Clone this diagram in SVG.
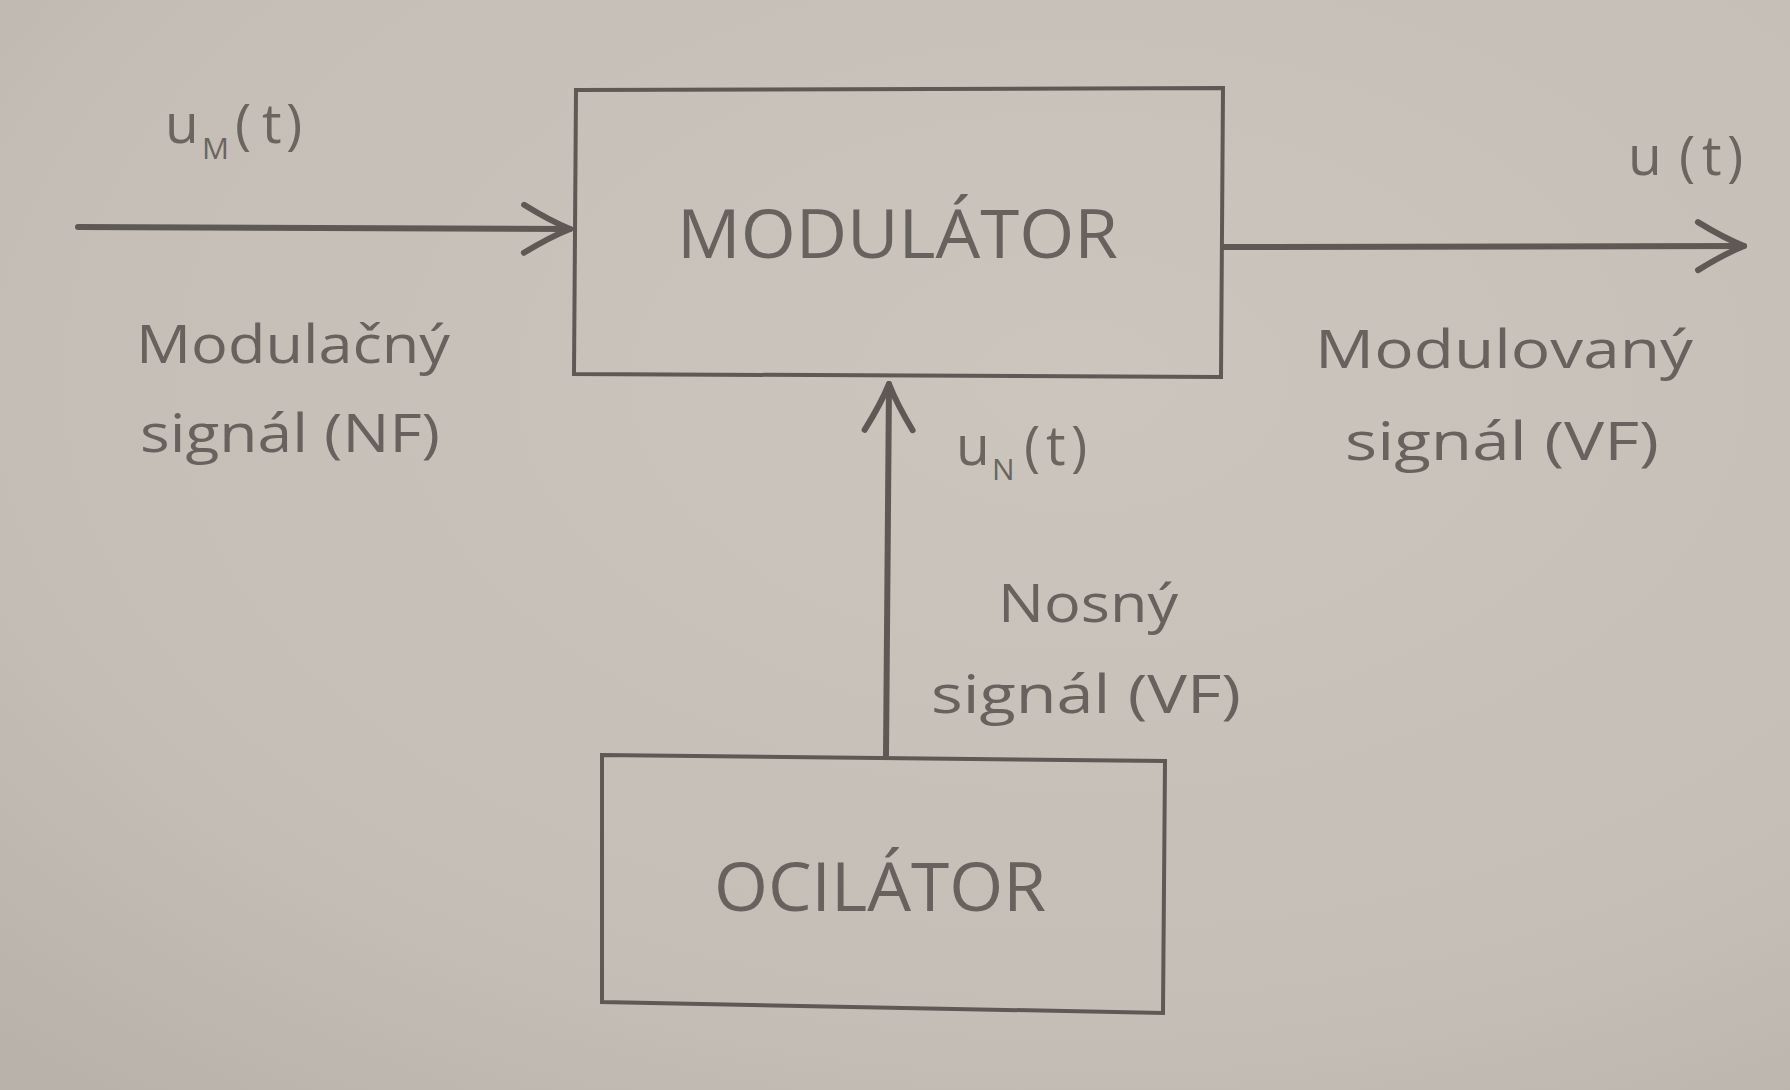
<svg xmlns="http://www.w3.org/2000/svg" width="1790" height="1090" viewBox="0 0 1790 1090">
  <defs>
    <radialGradient id="bg" cx="0.6" cy="0.35" r="0.85">
      <stop offset="0" stop-color="#cbc5be"/>
      <stop offset="0.7" stop-color="#c4beb7"/>
      <stop offset="1" stop-color="#b9b2ab"/>
    </radialGradient>
    <marker id="arr" viewBox="-52 -30 58 60" refX="0" refY="0" markerWidth="58" markerHeight="60" markerUnits="userSpaceOnUse" orient="auto">
      <path d="M -46,-24 Q -20,-8 0,0 Q -20,8 -46,24" fill="none" stroke="#5e5954" stroke-width="6" stroke-linecap="round" stroke-linejoin="round"/>
    </marker>
    <style>
      .box { fill: none; stroke: #5e5954; stroke-width: 4; stroke-linejoin: miter; }
      .wire { fill: none; stroke: #5e5954; stroke-width: 6; stroke-linecap: round; }
      .title { font-family: "Open Sans", "Liberation Sans", sans-serif; font-size: 67px; fill: #67625d; }
      .lbl { font-family: "Open Sans", "Liberation Sans", sans-serif; font-size: 53px; fill: #67625d; }
      .sym { font-family: "Open Sans", "Liberation Sans", sans-serif; font-size: 55px; fill: #6a655f; }
      .sub { font-size: 30px; }
    </style>
  </defs>
  <rect x="0" y="0" width="1790" height="1090" fill="url(#bg)"/>

  <g id="connectors">
    <line class="wire" x1="78" y1="227" x2="570" y2="229" marker-end="url(#arr)"/>
    <line class="wire" x1="1223" y1="247" x2="1744" y2="246" marker-end="url(#arr)"/>
    <line class="wire" x1="886" y1="756" x2="889" y2="384" marker-end="url(#arr)"/>
  </g>

  <g id="modulator">
    <polygon class="box" points="576,90 1223,88 1221,377 574,374"/>
    <text class="title" x="677" y="258" textLength="441" lengthAdjust="spacingAndGlyphs">MODULÁTOR</text>
  </g>

  <g id="oscilator">
    <polygon class="box" points="602,755 1165,761 1163,1013 602,1002"/>
    <text class="title" x="714" y="911" textLength="332" lengthAdjust="spacingAndGlyphs">OCILÁTOR</text>
  </g>

  <g id="label-input">
    <text class="sym" y="143"><tspan x="165">u</tspan><tspan class="sub" x="202" y="159">M</tspan><tspan x="235" y="143">(</tspan><tspan x="262">t</tspan><tspan x="286">)</tspan></text>
    <text class="lbl" x="136" y="363" textLength="314" lengthAdjust="spacingAndGlyphs">Modulačný</text>
    <text class="lbl" x="140" y="452" textLength="300" lengthAdjust="spacingAndGlyphs">signál (NF)</text>
  </g>

  <g id="label-output">
    <text class="sym" y="175"><tspan x="1628">u</tspan><tspan x="1679">(</tspan><tspan x="1702">t</tspan><tspan x="1727">)</tspan></text>
    <text class="lbl" x="1315" y="368" textLength="378" lengthAdjust="spacingAndGlyphs">Modulovaný</text>
    <text class="lbl" x="1345" y="460" textLength="314" lengthAdjust="spacingAndGlyphs">signál (VF)</text>
  </g>

  <g id="label-carrier">
    <text class="sym" y="465"><tspan x="956">u</tspan><tspan class="sub" x="992" y="480">N</tspan><tspan x="1024" y="465">(</tspan><tspan x="1046">t</tspan><tspan x="1071">)</tspan></text>
    <text class="lbl" x="998" y="622" textLength="180" lengthAdjust="spacingAndGlyphs">Nosný</text>
    <text class="lbl" x="931" y="713" textLength="310" lengthAdjust="spacingAndGlyphs">signál (VF)</text>
  </g>
</svg>
